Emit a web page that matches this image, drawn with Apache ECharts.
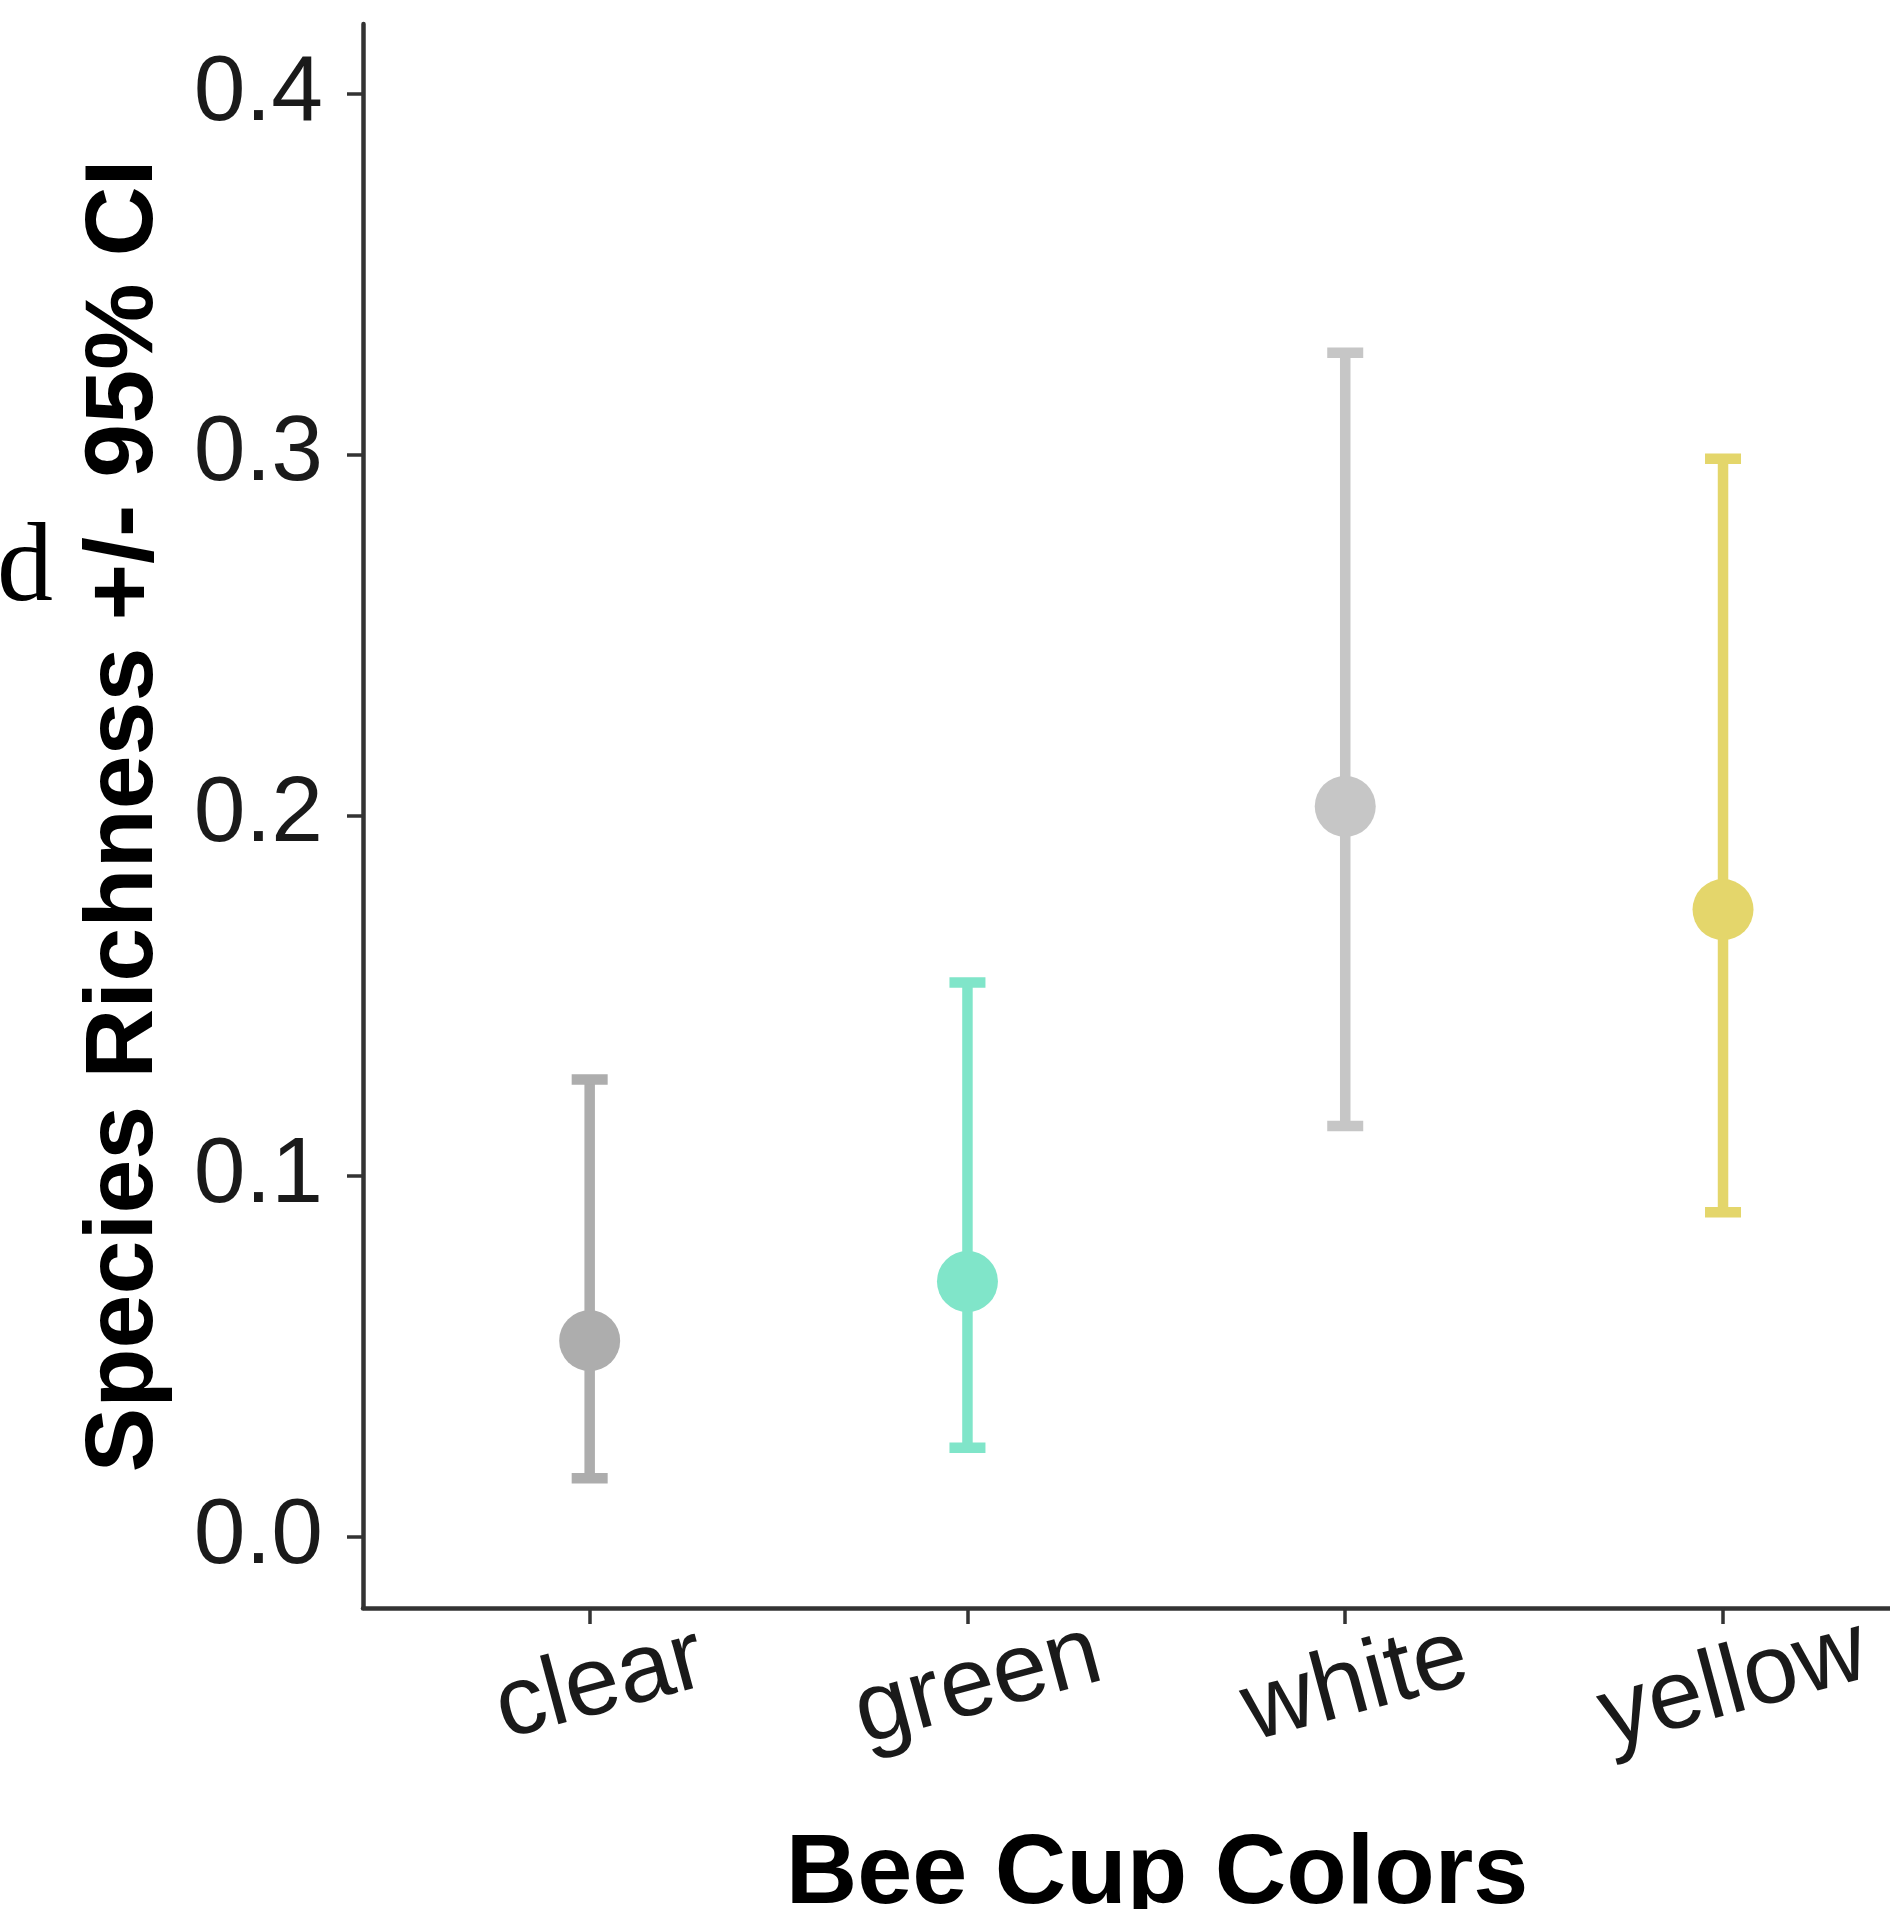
<!DOCTYPE html>
<html>
<head>
<meta charset="utf-8">
<script src="https://cdn.jsdelivr.net/npm/echarts@6/dist/echarts.min.js"></script>
<style>
html,body{margin:0;padding:0;background:#fff;}
#chart{width:1890px;height:1909px;}
</style>
</head>
<body>
<div id="chart"></div>
<script>
const categories = ['clear', 'green', 'white', 'yellow'];
const meanValues = [0.0544, 0.0708, 0.2025, 0.1739];
const lowerValues = [0.0163, 0.0247, 0.1139, 0.0900];
const upperValues = [0.1268, 0.1537, 0.3283, 0.2989];
const colors = ['#adadad', '#80e5c9', '#c6c6c6', '#e4d66b'];
const yTickValues = [0, 0.1, 0.2, 0.3, 0.4];
const xTickValues = [1, 2, 3, 4];

const chart = echarts.init(document.getElementById('chart'), null, {renderer: 'canvas'});

const errData = categories.map((c, i) => [i + 1, lowerValues[i], upperValues[i]]);
const pointData = categories.map((c, i) => ({value: [i + 1, meanValues[i]], itemStyle: {color: colors[i], opacity: 1}}));

const axisColor = '#333333';
const tickFont = 'Liberation Sans, Arial, sans-serif';

const option = {
  backgroundColor: '#ffffff',
  animation: false,
  grid: {left: 363, right: 0, top: 24, bottom: 301, containLabel: false},
  xAxis: {
    type: 'value',
    min: 0.4,
    max: 4.442,
    axisLine: {show: true, onZero: false, lineStyle: {color: axisColor, width: 4.5}},
    axisTick: {show: true, customValues: xTickValues, length: 16, lineStyle: {color: axisColor, width: 3.5}},
    axisLabel: {
      customValues: xTickValues,
      formatter: v => categories[Math.round(v) - 1] || '',
      rotate: 15,
      align: 'center',
      verticalAlign: 'middle',
      margin: 80,
      padding: [0, 0, 0, 22],
      fontFamily: tickFont,
      fontSize: 98,
      color: '#1a1a1a'
    },
    splitLine: {show: false}
  },
  yAxis: {
    type: 'value',
    min: -0.0197,
    max: 0.4194,
    name: 'Species Richness +/- 95% CI',
    nameLocation: 'middle',
    nameGap: 238,
    nameRotate: 90,
    nameTextStyle: {fontFamily: tickFont, fontWeight: 'bold', fontSize: 97, color: '#000', verticalAlign: 'middle'},
    axisLine: {show: true, onZero: false, lineStyle: {color: axisColor, width: 4.5}},
    axisTick: {show: true, customValues: yTickValues, length: 16, lineStyle: {color: axisColor, width: 3.5}},
    axisLabel: {
      customValues: yTickValues,
      formatter: v => v.toFixed(1),
      margin: 40,
      fontFamily: tickFont,
      fontSize: 93,
      color: '#1a1a1a'
    },
    splitLine: {show: false}
  },
  graphic: [
    {
      type: 'text',
      left: -3,
      top: 515,
      style: {text: 'd', font: '112px "Liberation Serif", "Times New Roman", serif', fill: '#000'}
    },
    {
      type: 'text',
      x: 1157,
      y: 1876,
      style: {text: 'Bee Cup Colors', font: 'bold 99px "Liberation Sans", Arial, sans-serif', fill: '#000', align: 'center', verticalAlign: 'middle'}
    }
  ],
  series: [
    {
      type: 'custom',
      data: errData,
      encode: {x: 0, y: [1, 2]},
      z: 1,
      renderItem: function (params, api) {
        const i = params.dataIndex;
        const lo = api.coord([api.value(0), api.value(1)]);
        const hi = api.coord([api.value(0), api.value(2)]);
        const hw = 18;
        const style = {stroke: colors[i], lineWidth: 10.5, fill: null};
        return {
          type: 'group',
          children: [
            {type: 'line', shape: {x1: lo[0], y1: lo[1], x2: hi[0], y2: hi[1]}, style: style},
            {type: 'line', shape: {x1: hi[0] - hw, y1: hi[1], x2: hi[0] + hw, y2: hi[1]}, style: style},
            {type: 'line', shape: {x1: lo[0] - hw, y1: lo[1], x2: lo[0] + hw, y2: lo[1]}, style: style}
          ]
        };
      }
    },
    {
      type: 'scatter',
      data: pointData,
      symbol: 'circle',
      symbolSize: 61,
      itemStyle: {opacity: 1},
      z: 2
    }
  ]
};
chart.setOption(option);
</script>
</body>
</html>
